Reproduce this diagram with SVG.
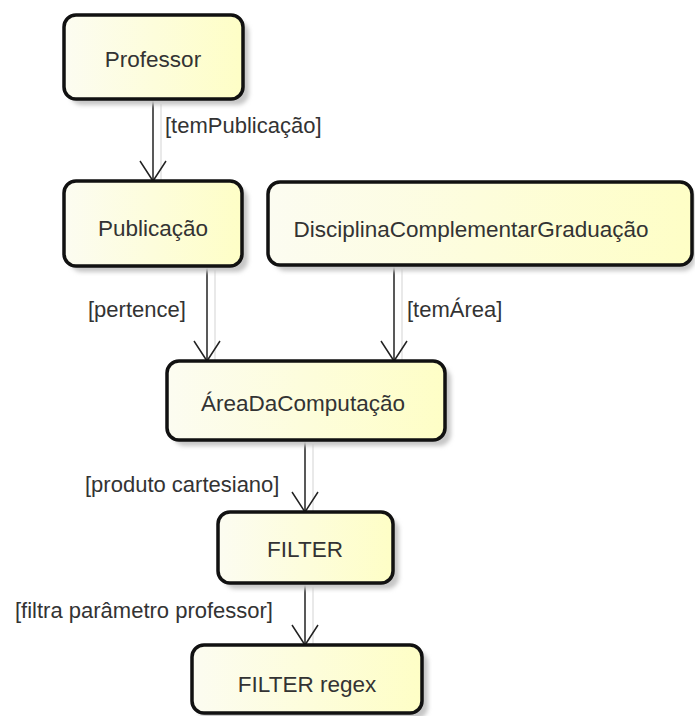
<svg xmlns="http://www.w3.org/2000/svg" width="695" height="716" viewBox="0 0 695 716">
  <defs>
    <linearGradient id="nodeFill" x1="0" y1="0" x2="1" y2="0">
      <stop offset="0" stop-color="#fcfcf1"/>
      <stop offset="1" stop-color="#fefec6"/>
    </linearGradient>
    <filter id="soft" x="-10%" y="-10%" width="130%" height="130%">
      <feGaussianBlur stdDeviation="2"/>
    </filter>
    <marker id="open" markerUnits="userSpaceOnUse" viewBox="-22 -15 24 30" refX="0" refY="0" markerWidth="24" markerHeight="30" orient="auto">
      <path d="M-20,-13 L0,0 L-20,13" fill="none" stroke="#222" stroke-width="1.5"/>
    </marker>
  </defs>
  <style>
    .shadow { fill: #c6c6c6; filter: url(#soft); }
    .box { fill: url(#nodeFill); stroke: #111; stroke-width: 3.5; }
    .name { font-family: "Liberation Sans", Arial, sans-serif; font-size: 22.5px; fill: #333; text-anchor: middle; }
    .guard { font-family: "Liberation Sans", Arial, sans-serif; font-size: 22px; fill: #333; }
    .edge { stroke: #222; stroke-width: 1.5; fill: none; marker-end: url(#open); }
    .edge-shadow { stroke: #e2e2e2; stroke-width: 1.5; fill: none; }
  </style>

  <rect width="695" height="716" fill="#ffffff"/>

  <!-- connectors -->
  <g id="connectors">
    <line class="edge-shadow" x1="161" y1="104" x2="161" y2="184"/>
    <line class="edge-shadow" x1="215" y1="270" x2="215" y2="364"/>
    <line class="edge-shadow" x1="402" y1="269" x2="402" y2="364"/>
    <line class="edge-shadow" x1="313" y1="444" x2="313" y2="515"/>
    <line class="edge-shadow" x1="313" y1="587" x2="313" y2="648"/>

    <line class="edge" x1="153" y1="100" x2="153" y2="181"/>
    <line class="edge" x1="207" y1="266" x2="207" y2="361"/>
    <line class="edge" x1="394" y1="265" x2="394" y2="361"/>
    <line class="edge" x1="305" y1="440" x2="305" y2="512"/>
    <line class="edge" x1="305" y1="583" x2="305" y2="645"/>

    <text class="guard" x="165" y="133">[temPublicação]</text>
    <text class="guard" x="88" y="317">[pertence]</text>
    <text class="guard" x="407" y="317">[temÁrea]</text>
    <text class="guard" x="85" y="492">[produto cartesiano]</text>
    <text class="guard" x="15" y="618">[filtra parâmetro professor]</text>
  </g>

  <g id="professor">
    <rect class="shadow" x="70" y="21" width="179" height="84" rx="12"/>
    <rect class="box" x="64" y="15" width="179" height="84" rx="12"/>
    <text class="name" x="153" y="67">Professor</text>
  </g>

  <g id="publicacao">
    <rect class="shadow" x="70" y="187" width="178" height="85" rx="12"/>
    <rect class="box" x="64" y="181" width="178" height="85" rx="12"/>
    <text class="name" x="153" y="236">Publicação</text>
  </g>

  <g id="disciplina">
    <rect class="shadow" x="274" y="188" width="421" height="83" rx="12"/>
    <rect class="box" x="268" y="182" width="424" height="83" rx="12"/>
    <text class="name" x="471" y="237">DisciplinaComplementarGraduação</text>
  </g>

  <g id="area">
    <rect class="shadow" x="173" y="367" width="278" height="79" rx="12"/>
    <rect class="box" x="167" y="361" width="278" height="79" rx="12"/>
    <text class="name" x="303" y="411">ÁreaDaComputação</text>
  </g>

  <g id="filter">
    <rect class="shadow" x="224" y="518" width="175" height="71" rx="12"/>
    <rect class="box" x="218" y="512" width="175" height="71" rx="12"/>
    <text class="name" x="305" y="557">FILTER</text>
  </g>

  <g id="filter-regex">
    <rect class="shadow" x="198" y="651" width="230" height="68" rx="12"/>
    <rect class="box" x="192" y="645" width="230" height="68" rx="12"/>
    <text class="name" x="307" y="692">FILTER regex</text>
  </g>
</svg>
